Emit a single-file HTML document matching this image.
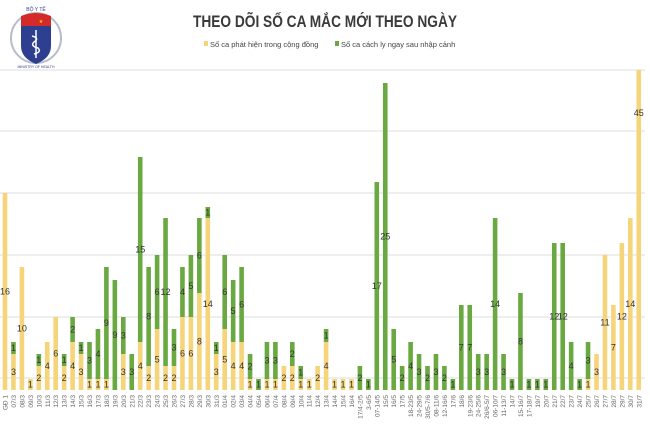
<!DOCTYPE html>
<html><head><meta charset="utf-8"><style>
html,body{margin:0;padding:0;background:#fff;}
svg{display:block;font-family:"Liberation Sans",sans-serif;}
</style></head><body>
<svg id="c" width="650" height="440" viewBox="0 0 650 440" xmlns="http://www.w3.org/2000/svg">
<rect width="650" height="440" fill="#fff"/>
<!-- logo -->
<circle cx="36" cy="38" r="25" fill="none" stroke="#b8bcc8" stroke-width="2"/>
<path d="M21 16 Q36 10 51 16 L51 26 L21 26 Z" fill="#d42a2a"/>
<path d="M21 26 L51 26 L51 46 Q51 58 36 64 Q21 58 21 46 Z" fill="#2f3f8f"/>
<text x="41" y="23" font-size="5" fill="#ffd700" text-anchor="middle">★</text>
<path d="M36 30 L36 58 M32 36 Q40 38 34 42 Q30 46 38 48 Q42 52 34 54" stroke="#fff" stroke-width="1.5" fill="none"/>
<text x="36" y="11" font-size="5" fill="#2f3f8f" text-anchor="middle">BỘ Y TẾ</text>
<text x="36" y="68" font-size="3.5" fill="#2f3f8f" text-anchor="middle">MINISTRY OF HEALTH</text>
<text x="325" y="27" font-size="17" font-weight="bold" fill="#3a3a3a" text-anchor="middle" font-family="Liberation Sans Narrow, Liberation Sans, sans-serif" textLength="264" lengthAdjust="spacingAndGlyphs">THEO DÕI SỐ CA MẮC MỚI THEO NGÀY</text>
<rect x="204" y="41" width="4" height="5" fill="#f5d47a"/>
<text x="210" y="47" font-size="7.5" fill="#444" font-family="Liberation Sans Narrow, Liberation Sans, sans-serif">Số ca phát hiện trong cộng đồng</text>
<rect x="335" y="41" width="4" height="5" fill="#6aa842"/>
<text x="341" y="47" font-size="7.5" fill="#444" font-family="Liberation Sans Narrow, Liberation Sans, sans-serif">Số ca cách ly ngay sau nhập cảnh</text>
<g stroke="#dedede" stroke-width="1">
<line x1="0" y1="70" x2="645" y2="70"/><line x1="0" y1="131" x2="645" y2="131"/>
<line x1="0" y1="193" x2="645" y2="193"/><line x1="0" y1="255" x2="645" y2="255"/>
<line x1="0" y1="317" x2="645" y2="317"/><line x1="0" y1="378" x2="645" y2="378"/>
</g>
<g id="bars"></g>
</svg>
<script>
// [label, yellowTop, greenTop, ylab, glab]
var d=[
["GĐ 1",193,null,"16",""],["07/3",354,342,"3","1"],["08/3",267,null,"10",""],["09/3",379,null,"1",""],
["10/3",366,354,"2","1"],["11/3",342,null,"4",""],["12/3",317,null,"6",""],["13/3",366,354,"2","1"],
["14/3",342,317,"4","2"],["15/3",354,342,"3","1"],["16/3",379,342,"1","3"],["17/3",379,329,"1","4"],
["18/3",379,267,"1","9"],["19/3",null,280,"","9"],["20/3",354,317,"3","3"],["21/3",null,354,"","3"],
["22/3",342,157,"4","15"],["23/3",366,267,"2","8"],["24/3",329,255,"5","6"],["25/3",366,218,"2","12"],
["26/3",366,329,"2","3"],["27/3",317,267,"6","4"],["28/3",317,255,"6","5"],["29/3",293,218,"8","6"],
["30/3",218,207,"14","1"],["31/3",354,342,"3","1"],["01/4",329,255,"5","6"],["02/4",342,280,"4","5"],
["03/4",342,267,"4","6"],["04/4",379,354,"1","2"],["05/4",null,379,"","1"],["06/4",379,342,"1","3"],
["07/4",379,342,"1","3"],["08/4",366,null,"2",""],["09/4",366,342,"2","2"],["10/4",379,366,"1","1"],
["11/4",379,null,"1",""],["12/4",366,null,"2",""],["13/4",342,329,"4","1"],["14/4",379,null,"1",""],
["15/4",379,null,"1",""],["16/4",379,null,"1",""],["17/4-2/5",null,366,"","2"],["3-6/5",null,379,"","1"],
["07-14/5",null,182,"","17"],["15/5",null,83,"","25"],["16/5",null,329,"","5"],["17/5",null,366,"","2"],
["18-23/5",null,342,"","4"],["24-29/5",null,354,"","3"],["30/5-7/6",null,366,"","2"],["08-11/6",null,354,"","3"],
["12-16/6",null,366,"","2"],["17/6",null,379,"","1"],["18/6",null,305,"","7"],["19-23/6",null,305,"","7"],
["24-25/6",null,354,"","3"],["26/6-5/7",null,354,"","3"],["06-10/7",null,218,"","14"],["11-13/7",null,354,"","3"],
["14/7",null,379,"","1"],["15-16/7",null,293,"","8"],["17-18/7",null,379,"","1"],["19/7",null,379,"","1"],
["20/7",null,379,"","1"],["21/7",null,243,"","12"],["22/7",null,243,"","12"],["23/7",null,342,"","4"],
["24/7",null,379,"","1"],["25/7",379,342,"1","3"],["26/7",354,null,"3",""],["27/7",255,null,"11",""],
["28/7",305,null,"7",""],["29/7",243,null,"12",""],["30/7",218,null,"14",""],["31/7",70,null,"45",""]];
var B=390,s='',w=4.6;
for(var i=0;i<d.length;i++){
 var cx=5+i*8.45,x=cx-w/2,r=d[i],yt=r[1],gt=r[2];
 var base=B;
 if(yt!==null){s+='<rect x="'+x+'" y="'+yt+'" width="'+w+'" height="'+(B-yt)+'" fill="#f5d47a"/>';
  var ly=(i==75)?116:(yt+B)/2+3;
  s+='<text x="'+cx+'" y="'+ly+'" font-size="9" fill="#333" text-anchor="middle">'+r[3]+'</text>';base=yt;}
 if(gt!==null){s+='<rect x="'+x+'" y="'+gt+'" width="'+w+'" height="'+(base-gt)+'" fill="#6aa842"/>';
  s+='<text x="'+cx+'" y="'+((gt+base)/2+3)+'" font-size="9" fill="#333" text-anchor="middle">'+r[4]+'</text>';}
 s+='<text transform="translate('+(cx+2.5)+',395) rotate(-90)" font-size="6.5" fill="#666" text-anchor="end">'+r[0]+'</text>';
}
document.getElementById('bars').innerHTML=s;
</script>
</body></html>
